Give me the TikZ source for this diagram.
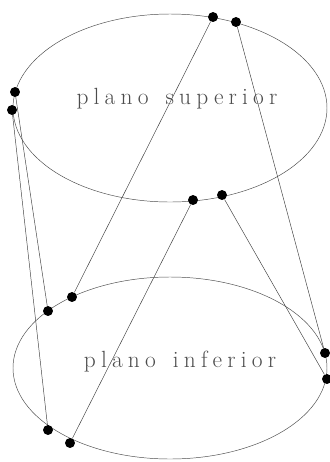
\documentclass[tikz,border=0pt]{standalone}
\usepackage{fontspec}
\usepackage{tikz}
\usetikzlibrary{positioning}
\newfontfamily\planefont{Latin Modern Roman}[LetterSpace=22, WordSpace=1.4]

\begin{document}
\begin{tikzpicture}[
  x=0.03cm, y=-0.03cm,
  plane/.style={draw=black!70, line width=0.4pt},
  dot/.style={circle, fill=black, inner sep=0pt, minimum size=8.5pt},
  link/.style={draw=black!75, line width=0.4pt},
  lbl/.style={text=black!70, font=\planefont\fontsize{20}{24}\selectfont}
]
\useasboundingbox (0,0) rectangle (330,462);
% the two planes
\draw[plane] (170,108) ellipse [x radius=157, y radius=94];
\draw[plane] (170,368) ellipse [x radius=157, y radius=91];
\node[lbl] (sup) at (177,99) {plano superior};
\node[lbl] (inf) at (180,362) {plano inferior};
% points on the upper plane
\node[dot] (s1) at (213,17) {};
\node[dot] (s2) at (236,22) {};
\node[dot] (s3) at (15,92) {};
\node[dot] (s4) at (12,110) {};
\node[dot] (s5) at (193,200) {};
\node[dot] (s6) at (222,195) {};
% points on the lower plane
\node[dot] (i1) at (72,297) {};
\node[dot] (i2) at (48,311) {};
\node[dot] (i3) at (325,353) {};
\node[dot] (i4) at (327,379) {};
\node[dot] (i5) at (48,430) {};
\node[dot] (i6) at (70,443) {};
% links
\draw[link] (s1) -- (i1);
\draw[link] (s2) -- (i3);
\draw[link] (s3) -- (i2);
\draw[link] (s4) -- (i5);
\draw[link] (s5) -- (i6);
\draw[link] (s6) -- (i4);
\end{tikzpicture}
\end{document}
